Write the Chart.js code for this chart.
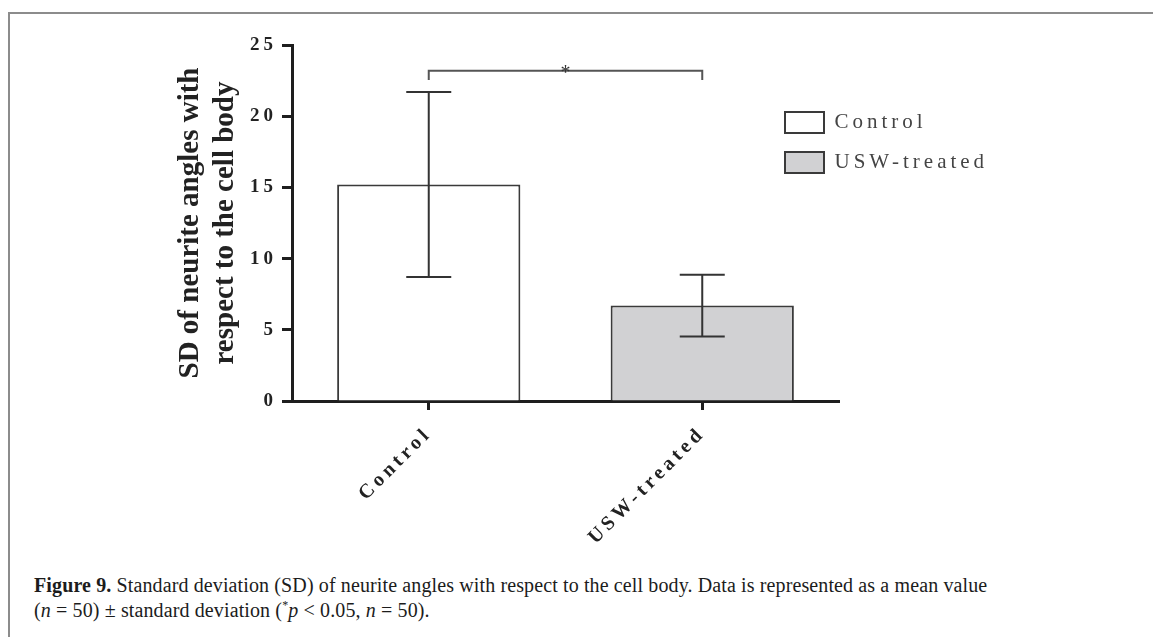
<!DOCTYPE html>
<html>
<head>
<meta charset="utf-8">
<script src="https://cdn.jsdelivr.net/npm/chart.js@4.4.1/dist/chart.umd.min.js"></script>
<style>
html,body{margin:0;padding:0;background:#fff;}
body{width:1153px;height:637px;position:relative;overflow:hidden;}
#frame{position:absolute;left:8px;top:12px;right:-4px;bottom:-4px;border-top:2px solid #8c8c8c;border-left:2px solid #8c8c8c;}
#c{position:absolute;left:0;top:0;}
#cap{position:absolute;left:34px;top:575px;font-family:"Liberation Serif",serif;font-size:20px;line-height:20px;color:#1c1c1c;white-space:nowrap;letter-spacing:0.12px;}
#cap b{font-weight:bold;}
</style>
</head>
<body>
<div id="frame"></div>
<canvas id="c" width="1153" height="560"></canvas>
<div id="cap"><b>Figure 9.</b> Standard deviation (SD) of neurite angles with respect to the cell body. Data is represented as a mean value<br>(<i>n</i> = 50) ± standard deviation (<sup style="font-size:12px">*</sup><i>p</i> &lt; 0.05, <i>n</i> = 50).</div>
<script>
// ---- data ----
const categories = ['Control', 'USW-treated'];
const means = [15.2, 6.7];
const sds = [6.5, 2.17];
const barFills = ['#ffffff', '#d1d1d3'];
const yMin = 0, yMax = 25, yStep = 5;
const yTitle = ['SD of neurite angles with', 'respect to the cell body'];
const sigPair = [0, 1];
const sigLevel = 23.2;
const sigLeg = 0.66;
const sigLabel = '*';

const SERIF = '"Liberation Serif", "DejaVu Serif", serif';
const AXIS = '#1e1e1e';

const datasets = categories.map((c, i) => ({
  label: c,
  data: categories.map((_, j) => (j === i ? means[i] : null)),
  backgroundColor: barFills[i],
  borderColor: '#3a3a3a',
  borderWidth: 2,
  barPercentage: 0.67,
  categoryPercentage: 1,
  grouped: false
}));

const spacingPlugin = {
  id: 'spacing',
  beforeLayout(chart) { chart.ctx.letterSpacing = '4px'; },
  beforeDraw(chart) { chart.ctx.letterSpacing = '4px'; },
  afterLayout(chart) {
    const ys = chart.scales.y;
    if (ys && !ys._wrappedTitle) {
      const orig = ys.drawTitle;
      ys.drawTitle = function () {
        const c = this.ctx; const p = c.letterSpacing;
        c.letterSpacing = '0px'; orig.call(this); c.letterSpacing = p;
      };
      ys._wrappedTitle = true;
    }
    const lg = chart.legend;
    if (lg) {
      lg.left = 766; lg.top = 93; lg.right = 1153; lg.bottom = lg.top + 200;
      lg.width = lg.right - lg.left; lg.height = 200;
    }
  }
};

const errorPlugin = {
  id: 'errbars',
  afterDatasetsDraw(chart) {
    const ctx = chart.ctx, y = chart.scales.y, x = chart.scales.x;
    ctx.save();
    ctx.letterSpacing = '0px';
    ctx.strokeStyle = '#333';
    ctx.lineWidth = 2;
    chart.data.datasets.forEach((ds, i) => {
      const meta = chart.getDatasetMeta(i);
      ds.data.forEach((v, j) => {
        if (v == null) return;
        const cx = meta.data[j].x;
        const t = y.getPixelForValue(v + sds[i]);
        const b = y.getPixelForValue(v - sds[i]);
        const hw = 22.5;
        ctx.beginPath();
        ctx.moveTo(cx, t); ctx.lineTo(cx, b);
        ctx.moveTo(cx - hw, t); ctx.lineTo(cx + hw, t);
        ctx.moveTo(cx - hw, b); ctx.lineTo(cx + hw, b);
        ctx.stroke();
      });
    });
    // significance bracket
    const x0 = x.getPixelForValue(sigPair[0]);
    const x1 = x.getPixelForValue(sigPair[1]);
    const yb = y.getPixelForValue(sigLevel);
    const yl = y.getPixelForValue(sigLevel - sigLeg);
    ctx.strokeStyle = '#555';
    ctx.lineWidth = 2;
    ctx.beginPath();
    ctx.moveTo(x0, yl); ctx.lineTo(x0, yb); ctx.lineTo(x1, yb); ctx.lineTo(x1, yl);
    ctx.stroke();
    ctx.fillStyle = '#333';
    ctx.font = '20px ' + SERIF;
    ctx.textAlign = 'center';
    ctx.textBaseline = 'alphabetic';
    ctx.fillText(sigLabel, (x0 + x1) / 2, yb + 8);
    ctx.restore();
  }
};

new Chart(document.getElementById('c'), {
  type: 'bar',
  data: { labels: categories, datasets },
  options: {
    responsive: false,
    devicePixelRatio: 1,
    animation: false,
    layout: { padding: { top: 45, right: 314, bottom: 0, left: 0 } },
    plugins: {
      tooltip: { enabled: false },
      legend: {
        position: 'chartArea',
        align: 'start',
        labels: {
          boxWidth: 39, boxHeight: 21, padding: 19,
          color: '#444',
          font: { family: SERIF, size: 21 }
        }
      }
    },
    scales: {
      x: {
        type: 'category',
        offset: true,
        grid: { display: true, drawOnChartArea: false, drawTicks: true, tickLength: 9, tickWidth: 3, tickColor: AXIS, offset: false },
        border: { display: true, color: AXIS, width: 3 },
        ticks: {
          color: '#222', autoSkip: false, minRotation: 45, maxRotation: 45, padding: 12,
          font: { family: SERIF, size: 20, weight: 'bold' }
        },
        afterFit(s) { s.height = 159; }
      },
      y: {
        min: yMin, max: yMax,
        grid: { display: true, drawOnChartArea: false, drawTicks: true, tickLength: 10, tickWidth: 3, tickColor: AXIS },
        border: { display: true, color: AXIS, width: 3 },
        ticks: {
          stepSize: yStep, color: '#222', padding: 5,
          font: { family: SERIF, size: 19, weight: 'bold' }
        },
        title: {
          display: true, text: yTitle, color: '#222',
          font: { family: SERIF, size: 29, weight: 'bold', lineHeight: 1.2 },
          padding: { top: 173.5, bottom: 0 }
        },
        afterFit(s) { s.width = 292; }
      }
    }
  },
  plugins: [spacingPlugin, errorPlugin]
});
</script>
</body>
</html>
